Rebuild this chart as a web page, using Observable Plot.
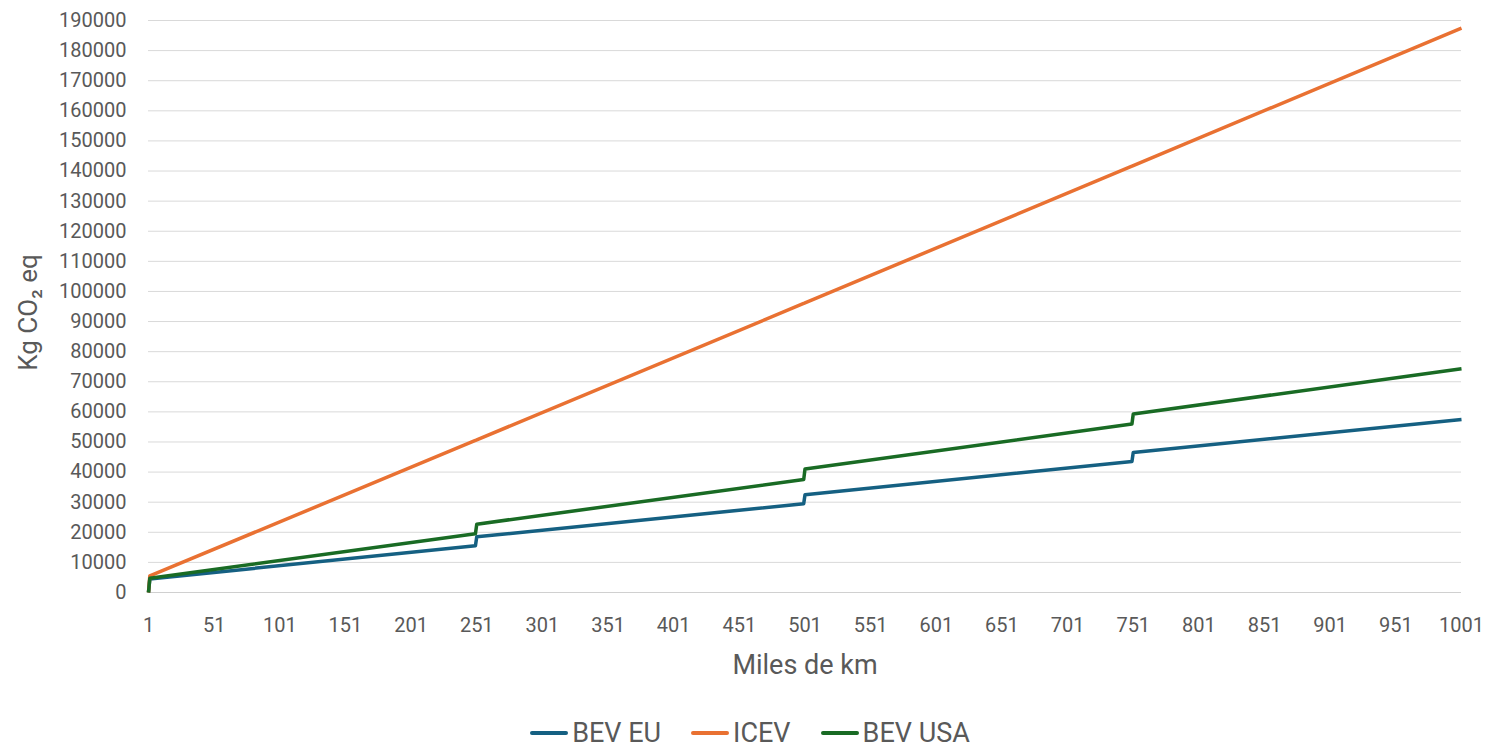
<!DOCTYPE html>
<html>
<head>
<meta charset="utf-8">
<script src="https://cdn.jsdelivr.net/npm/d3@7"></script>
<script src="https://cdn.jsdelivr.net/npm/@observablehq/plot@0.6"></script>
<style>
  html, body { margin: 0; padding: 0; background: #ffffff; }
  body { width: 1500px; height: 747px; overflow: hidden; font-family: Roboto, "Open Sans", sans-serif; }
  #legend {
    display: flex; justify-content: center; align-items: center;
    gap: 30px; height: 57px; box-sizing: border-box; padding-top: 28px;
    font-size: 27px; color: #595959;
  }
  #legend .item { display: flex; align-items: center; gap: 4px; }
  #legend .swatch { width: 38px; height: 4px; border-radius: 2px; }
</style>
</head>
<body>
<div id="chart"></div>
<div id="legend"></div>
<script>
// Thousands of km driven at each break point (battery replacement every 250k km)
const kmSteps = [1, 2, 250, 251, 500, 501, 750, 751, 1001];
// Cumulative emissions, kg CO2 eq
const bevEU  = [0, 4500, 15500, 18500, 29500, 32500, 43500, 46500, 57500];
const icev   = [0, 5500, 50500, 50700, 96000, 96200, 141600, 141800, 187500];
const bevUSA = [0, 4700, 19500, 22700, 37500, 41000, 56000, 59300, 74300];

const seriesNames = ["BEV EU", "ICEV", "BEV USA"];
const seriesColors = ["#156082", "#E97132", "#196B24"];

const xTicks = d3.range(1, 1002, 50);
const yTicks = d3.range(0, 190001, 10000);

const rows = [];
[bevEU, icev, bevUSA].forEach((vals, s) => {
  vals.forEach((v, i) => rows.push({series: seriesNames[s], km: kmSteps[i], co2: v}));
});

const textColor = "#595959";

const chart = Plot.plot({
  width: 1500,
  height: 690,
  marginLeft: 148,
  marginRight: 39,
  marginTop: 20,
  marginBottom: 98,
  style: {fontFamily: "Roboto, 'Open Sans', sans-serif", color: textColor, background: "#ffffff"},
  x: {domain: [1, 1001]},
  y: {domain: [0, 190000]},
  color: {domain: seriesNames, range: seriesColors},
  marks: [
    Plot.gridY(yTicks, {stroke: "#d9d9d9", strokeOpacity: 1, strokeWidth: 1}),
    Plot.ruleY([0], {stroke: "#d0d0d0", strokeWidth: 1}),
    Plot.axisY(yTicks, {
      tickSize: 0, tickPadding: 22, fontSize: 20, label: null,
      tickFormat: d => String(d), fill: textColor
    }),
    Plot.axisX(xTicks, {
      tickSize: 0, tickPadding: 25, fontSize: 20, label: null,
      tickFormat: d => String(d), fill: textColor
    }),
    Plot.text(["Kg CO₂ eq"], {
      frameAnchor: "left", textAnchor: "middle", dx: -120, dy: 6, rotate: -90,
      fontSize: 26, fill: textColor
    }),
    Plot.text(["Miles de km"], {
      frameAnchor: "bottom", dy: 81,
      fontSize: 27, fill: textColor
    }),
    Plot.line(rows, {
      x: "km", y: "co2", z: "series", stroke: "series",
      strokeWidth: 3.5, strokeLinejoin: "round", strokeLinecap: "butt"
    })
  ]
});
document.getElementById("chart").appendChild(chart);

const legend = document.getElementById("legend");
seriesNames.forEach((name, i) => {
  const item = document.createElement("div");
  item.className = "item";
  const sw = document.createElement("span");
  sw.className = "swatch";
  sw.style.background = seriesColors[i];
  const label = document.createElement("span");
  label.textContent = name;
  item.appendChild(sw);
  item.appendChild(label);
  legend.appendChild(item);
});
</script>
</body>
</html>
